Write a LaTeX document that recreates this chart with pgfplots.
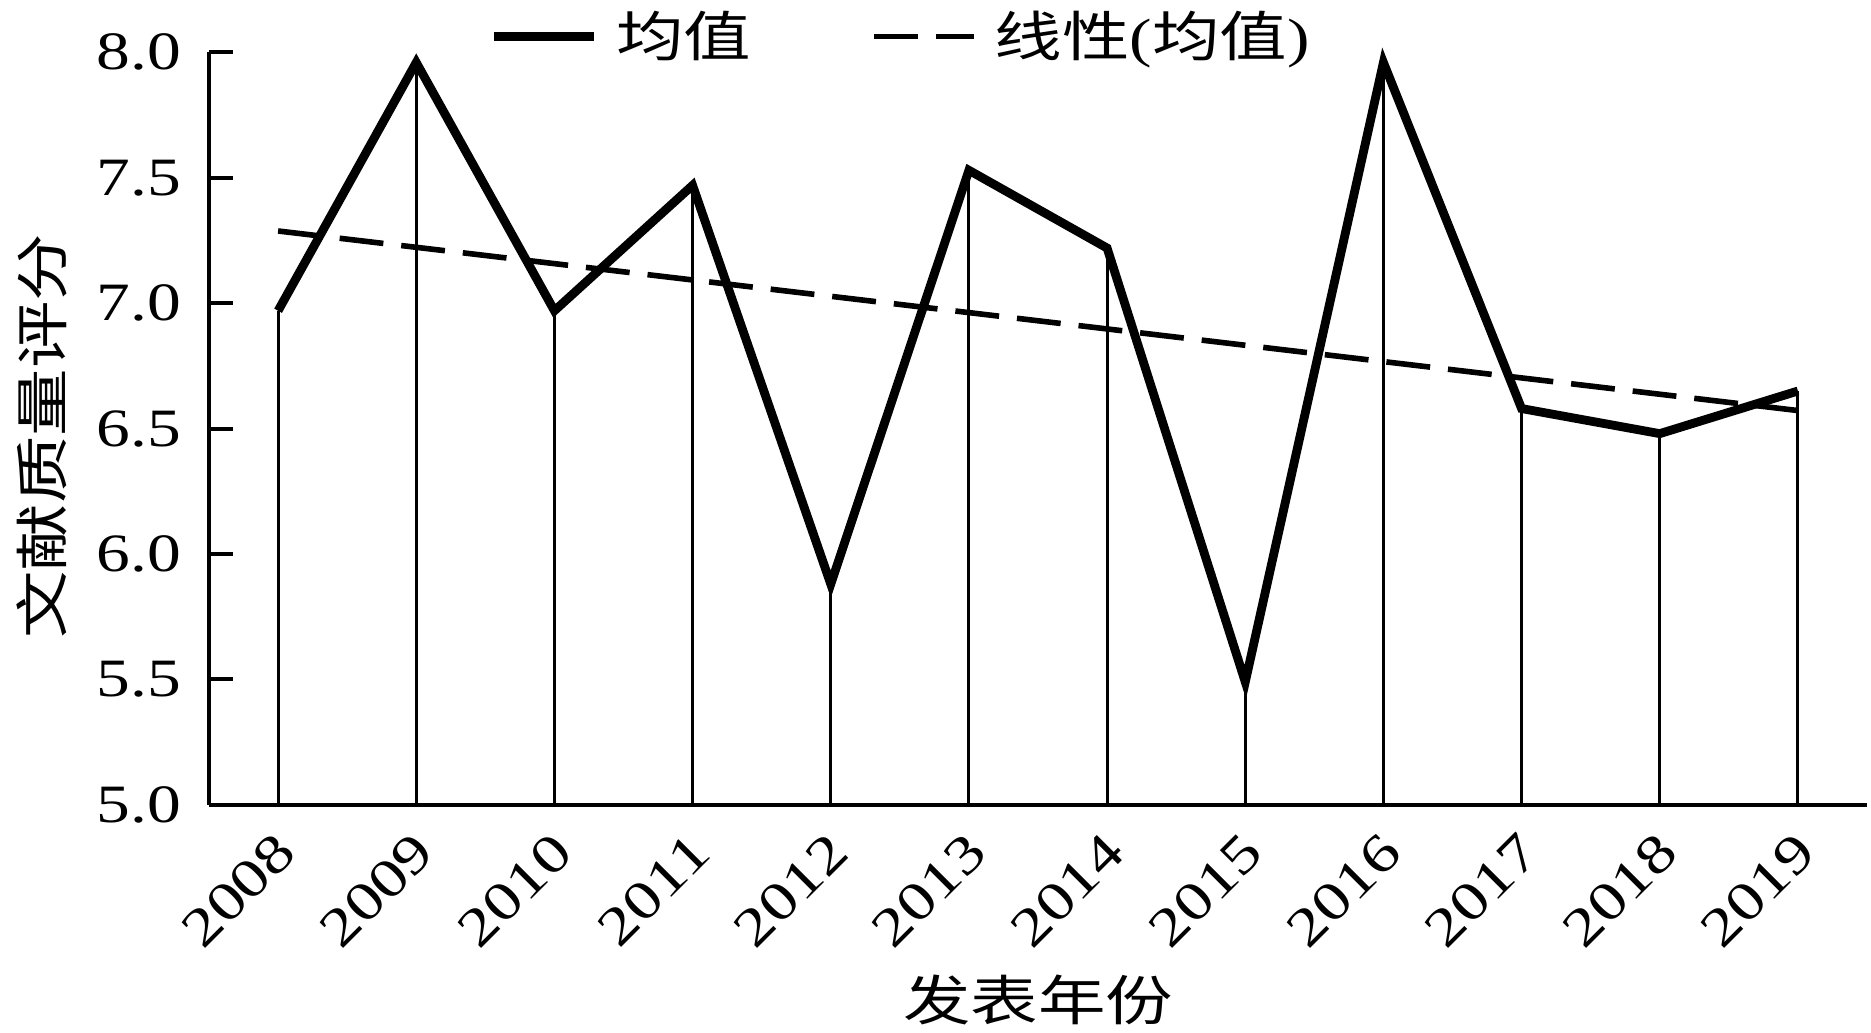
\documentclass[border=0pt]{standalone}
\usepackage{fontspec}
\setmainfont[FakeStretch=1.25]{Liberation Serif}
\newfontfamily\cjk[FakeStretch=1.25]{Noto Sans CJK SC}
\usepackage{pgfplots}
\pgfplotsset{compat=1.18}
\begin{document}
\begin{tikzpicture}
\path[use as bounding box] (-52.25pt,-57pt) rectangle (415.5pt,201.2pt);
\begin{axis}[
  at={(0,0)}, anchor=south west,
  width=414.5pt, height=188.1pt, scale only axis,
  xmin=-0.5, xmax=11.5, ymin=5, ymax=8,
  clip=false,
  axis x line*=bottom, axis y line*=left,
  axis line style={line width=1pt, black},
  xtick={0,1,2,3,4,5,6,7,8,9,10,11},
  xticklabels={2008,2009,2010,2011,2012,2013,2014,2015,2016,2017,2018,2019},
  xtick style={draw=none},
  ytick={5,5.5,6,6.5,7,7.5,8},
  ytick style={line width=1pt, black},
  tick align=inside, major tick length=6pt,
  /pgf/number format/assume math mode=true,
  yticklabel style={/pgf/number format/fixed, /pgf/number format/fixed zerofill, /pgf/number format/precision=1, xshift=-3.5pt},
  tick label style={font=\fontsize{13.5}{16}\selectfont},
  xticklabel style={xshift=4.5pt, yshift=-7pt, rotate=45, anchor=east},
  label style={font=\fontsize{13.5}{16}\selectfont},
  xlabel={\cjk 发表年份},
  ylabel={\cjk 文献质量评分},
  xlabel style={at={(axis description cs:0.5,0)}, anchor=center, yshift=-48.8pt},
  ylabel style={at={(axis description cs:-0.1007,0.49)}, anchor=center},
  legend image code/.code={\draw[#1] (0pt,0pt) -- (25pt,0pt);},
  legend style={at={(axis description cs:0.419,1)}, anchor=center, yshift=4pt,
    draw=none, fill=none, legend columns=2,
    font=\fontsize{13.5}{16}\selectfont,
    /tikz/every odd column/.append style={column sep=2.5pt},
    /tikz/every even column/.append style={column sep=28pt}},
  legend cell align=left,
]
\addplot[draw=none, mark=none, forget plot,
  error bars/.cd, y dir=minus, y explicit, error mark=none,
  error bar style={draw=black, solid, line width=0.75pt}]
  table[x=x, y=v, y error expr=\thisrow{v}-5] {
x v
0 6.97
1 7.96
2 6.97
3 7.47
4 5.88
5 7.53
6 7.22
7 5.49
8 7.96
9 6.58
10 6.48
11 6.65
};
\addplot[black, line width=2.2pt, mark=none] table[x=x, y=v] {
x v
0 6.97
1 7.96
2 6.97
3 7.47
4 5.88
5 7.53
6 7.22
7 5.49
8 7.96
9 6.58
10 6.48
11 6.65
};
\addplot[black, line width=1.4pt, mark=none, dash pattern=on 11pt off 4.5pt] table[x=x, y=v] {
x v
0 7.288
11 6.572
};
\legend{{\cjk 均值}, {\cjk 线性}({\cjk 均值})}
\end{axis}
\end{tikzpicture}
\end{document}
